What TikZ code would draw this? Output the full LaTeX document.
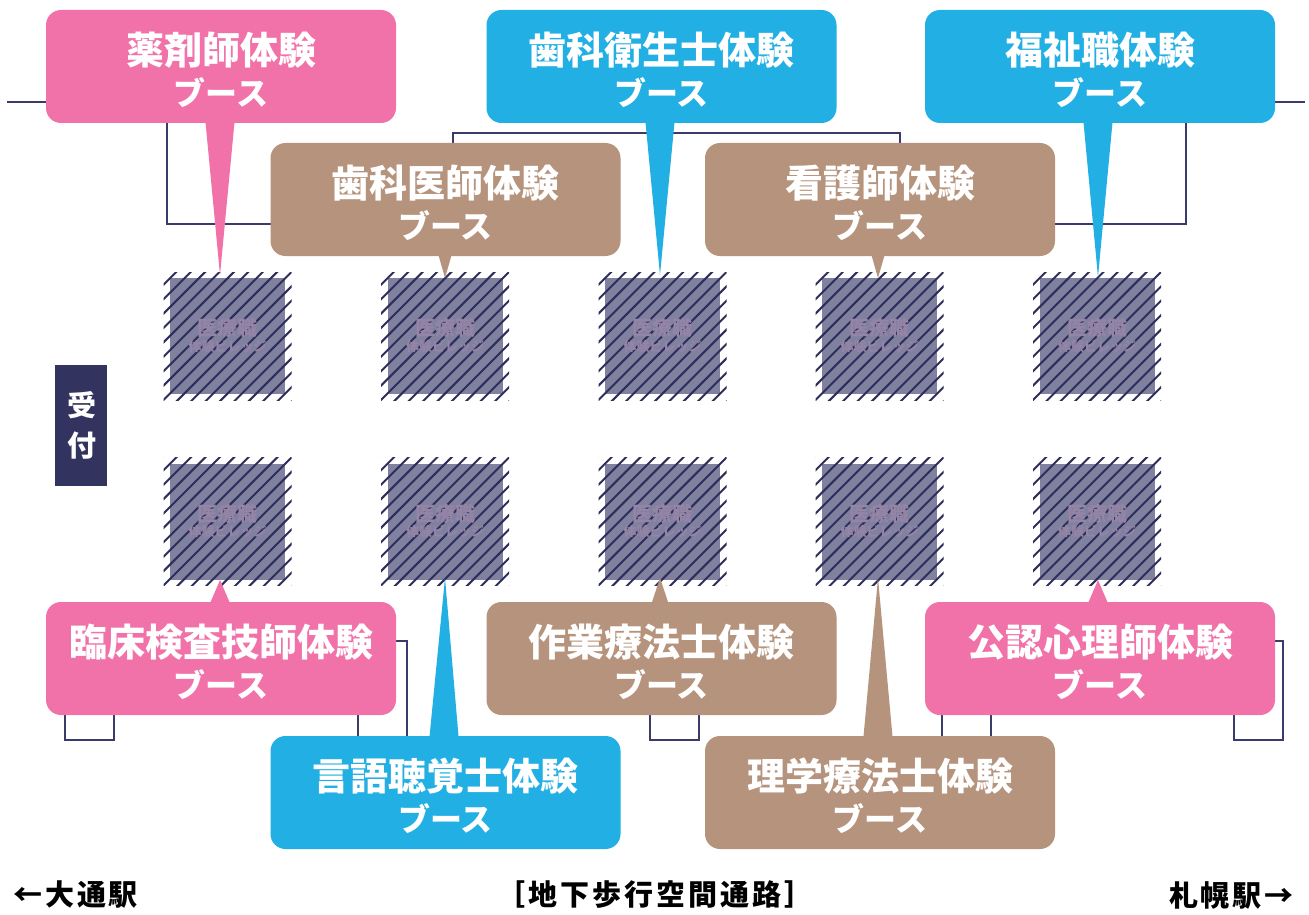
\documentclass[tikz,border=0pt]{standalone}
\usepackage{fontspec}
\newfontfamily\jpfont{Noto Sans CJK JP}
\newfontfamily\jpfoot{Noto Sans CJK JP}[LetterSpace=10]
\usetikzlibrary{calc}
\definecolor{cpink}{HTML}{F172A9}
\definecolor{cblue}{HTML}{21AFE4}
\definecolor{cbrown}{HTML}{B5937C}
\definecolor{cnavy}{HTML}{33335F}
\definecolor{cline}{HTML}{3B3B6B}
\definecolor{cbooth}{HTML}{80809F}
\definecolor{chatch}{HTML}{2E2E5C}
\definecolor{cbtxt}{HTML}{9484A6}
\tikzset{
  box/.style={rounded corners=15pt, minimum width=350pt, minimum height=113pt, inner sep=0pt, outer sep=0pt},
  ttl/.style={text=white, inner sep=0pt, font=\jpfont\bfseries\fontsize{38}{40}\selectfont},
  sub/.style={text=white, inner sep=0pt, font=\jpfont\bfseries\fontsize{32}{34}\selectfont},
  wire/.style={draw=cline, line width=1.6pt},
  hatchline/.style={draw=chatch, line width=2pt},
  btxta/.style={text=cbtxt, inner sep=0pt, font=\jpfont\bfseries\fontsize{20}{22}\selectfont},
  btxtb/.style={text=cbtxt, inner sep=0pt, font=\jpfont\bfseries\fontsize{13}{15}\selectfont},
  rcpt/.style={text=white, inner sep=0pt, font=\jpfont\bfseries\fontsize{29}{31}\selectfont},
  foot/.style={text=black, inner sep=0pt, font=\jpfoot\bfseries\fontsize{29}{31}\selectfont},
}
\newcommand\mybooth[3]{%
  \fill[cbooth] (#2-57.5,#3-58) rectangle (#2+57.5,#3+58);
  \begin{scope}
    \clip (#2-64,#3-64) rectangle (#2+64,#3+64);
    \foreach \k in {-10,...,10} \draw[hatchline] (#2+\k*14.4-70,#3+70) -- ++(140,-140);
  \end{scope}
  \node[btxta] (#1a) at (#2,#3-8) {医療職};
  \node[btxtb] (#1b) at (#2,#3+10) {体験ビレッジ};
}
\newcommand\mycallout[5]{% name, color, cx, top, title
  \node[box, fill=#2] (#1) at (#3,#4+56.5) {};
  \node[ttl] (#1t) at (#3,#4+40) {#5};
  \node[sub] (#1s) at (#3,#4+83) {ブース};
}
\begin{document}
\begin{tikzpicture}[x=1pt,y=-1pt]
\useasboundingbox (0,0) rectangle (1309,915);
\fill[white] (0,0) rectangle (1309,915);
% background wires
\draw[wire] (7,102) -- (60,102);
\draw[wire] (167,110) -- (167,224) -- (280,224);
\draw[wire] (453,150) -- (453,133) -- (900,133) -- (900,150);
\draw[wire] (1186,110) -- (1186,224) -- (1045,224);
\draw[wire] (1260,102) -- (1305,102);
\draw[wire] (65,700) -- (65,740) -- (114,740) -- (114,700);
\draw[wire] (358,700) -- (358,745);
\draw[wire] (385,641) -- (407,641) -- (407,745);
\draw[wire] (650,700) -- (650,740) -- (699,740) -- (699,700);
\draw[wire] (942,700) -- (942,745);
\draw[wire] (991,700) -- (991,745);
\draw[wire] (1234,700) -- (1234,740) -- (1283,740) -- (1283,641) -- (1265,641);
% booths
\mybooth{ba1}{227.5}{336}
\mybooth{ba2}{445}{336}
\mybooth{ba3}{662.5}{336}
\mybooth{ba4}{879.5}{336}
\mybooth{ba5}{1097}{336}
\mybooth{bb1}{227.5}{521.5}
\mybooth{bb2}{445}{521.5}
\mybooth{bb3}{662.5}{521.5}
\mybooth{bb4}{879.5}{521.5}
\mybooth{bb5}{1097}{521.5}
% reception
\node[fill=cnavy, minimum width=52pt, minimum height=121pt, inner sep=0pt] (rc) at (81,425.5) {};
\node[rcpt] (rc1) at (82,405) {受};
\node[rcpt] (rc2) at (82,446) {付};
% tips
\coordinate (p1) at (220,275);
\coordinate (p2) at (660,275);
\coordinate (p3) at (1098,277);
\coordinate (p4) at (445,278);
\coordinate (p5) at (878,278);
\coordinate (p6) at (220,580);
\coordinate (p7) at (660,578);
\coordinate (p8) at (1098,580);
\coordinate (p9) at (445,578);
\coordinate (p10) at (878,578);
% callouts
\mycallout{c1}{cpink}{221}{10}{薬剤師体験}
\fill[cpink] ($(c1.south)+(-16,-6)$) -- ($(c1.south)+(14,-6)$) -- (p1) -- cycle;
\mycallout{c2}{cblue}{661.5}{10}{歯科衛生士体験}
\fill[cblue] ($(c2.south)+(-16.5,-6)$) -- ($(c2.south)+(13.5,-6)$) -- (p2) -- cycle;
\mycallout{c3}{cblue}{1100}{10}{福祉職体験}
\fill[cblue] ($(c3.south)+(-17,-6)$) -- ($(c3.south)+(13,-6)$) -- (p3) -- cycle;
\mycallout{c4}{cbrown}{445.5}{143}{歯科医師体験}
\fill[cbrown] ($(c4.south)+(-8.5,-6)$) -- ($(c4.south)+(7.5,-6)$) -- (p4) -- cycle;
\mycallout{c5}{cbrown}{880}{143}{看護師体験}
\fill[cbrown] ($(c5.south)+(-10,-6)$) -- ($(c5.south)+(6,-6)$) -- (p5) -- cycle;
\mycallout{c6}{cpink}{221}{602}{臨床検査技師体験}
\fill[cpink] ($(c6.north)+(-13,6)$) -- ($(c6.north)+(11,6)$) -- (p6) -- cycle;
\mycallout{c7}{cbrown}{661.5}{602}{作業療法士体験}
\fill[cbrown] ($(c7.north)+(-11.5,6)$) -- ($(c7.north)+(8.5,6)$) -- (p7) -- cycle;
\mycallout{c8}{cpink}{1100}{602}{公認心理師体験}
\fill[cpink] ($(c8.north)+(-14,6)$) -- ($(c8.north)+(10,6)$) -- (p8) -- cycle;
\mycallout{c9}{cblue}{445.5}{736}{言語聴覚士体験}
\fill[cblue] ($(c9.north)+(-16.5,6)$) -- ($(c9.north)+(13.5,6)$) -- (p9) -- cycle;
\mycallout{c10}{cbrown}{880}{736}{理学療法士体験}
\fill[cbrown] ($(c10.north)+(-17,6)$) -- ($(c10.north)+(13,6)$) -- (p10) -- cycle;
% footer
\node[foot, anchor=west] (fl) at (13,895) {←大通駅};
\node[foot] (fc) at (655,895) {［地下歩行空間通路］};
\node[foot, anchor=east] (fr) at (1294,895) {札幌駅→};
\end{tikzpicture}
\end{document}
